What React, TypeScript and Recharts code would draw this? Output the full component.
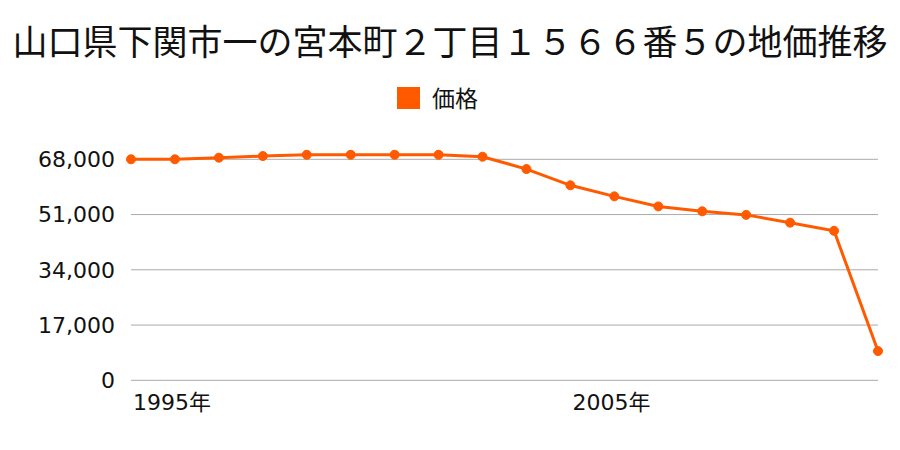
import React from "react";
import { LineChart, Line, XAxis, YAxis, CartesianGrid } from "recharts";

const years = [1995, 1996, 1997, 1998, 1999, 2000, 2001, 2002, 2003, 2004, 2005, 2006, 2007, 2008, 2009, 2010, 2011, 2012];
const prices = [68000, 68000, 68500, 69000, 69400, 69400, 69400, 69400, 68800, 65000, 60000, 56600, 53500, 52000, 50900, 48500, 46000, 9000];
const yTicks = [0, 17000, 34000, 51000, 68000];
const xTicks = [1995, 2005];
const title = "山口県下関市一の宮本町２丁目１５６６番５の地価推移";
const seriesName = "価格";

const data = years.map((y, i) => ({ year: y, price: prices[i] }));

const COLOR = "#ff5a00";
const FONT = "'Noto Sans CJK JP', 'Noto Sans', sans-serif";
const TICK_FONT = "'DejaVu Sans', 'Noto Sans CJK JP', sans-serif";

const XTick = (props: any) => {
  const { x, y, payload } = props;
  return (
    <text x={x + 2} y={y} dy={22} textAnchor="start" fontSize={22} fill="#111" fontFamily={TICK_FONT}>
      {`${payload.value}年`}
    </text>
  );
};

export default function App() {
  return (
    <div style={{ position: "absolute", left: 0, top: 0, width: 900, height: 450, background: "#fff", fontFamily: FONT }}>
      <div
        style={{
          position: "absolute",
          left: 0,
          top: 20,
          width: 900,
          height: 40,
          lineHeight: "40px",
          textAlign: "center",
          fontSize: 35,
          color: "#111",
          whiteSpace: "nowrap",
        }}
      >
        {title}
      </div>
      <div style={{ position: "absolute", left: 397, top: 87, width: 23, height: 22, background: COLOR }} />
      <div
        style={{
          position: "absolute",
          left: 432,
          top: 81,
          height: 32,
          lineHeight: "32px",
          fontSize: 23,
          color: "#111",
        }}
      >
        {seriesName}
      </div>
      <LineChart
        width={900}
        height={450}
        data={data}
        margin={{ top: 145.5, right: 22, bottom: 0, left: 0 }}
      >
        <CartesianGrid
          vertical={false}
          stroke="#aaaaaa"
          strokeWidth={1}
          horizontalValues={yTicks}
          syncWithTicks
        />
        <XAxis
          dataKey="year"
          type="number"
          domain={[1995, 2012]}
          ticks={xTicks}
          axisLine={false}
          tickLine={false}
          tick={<XTick />}
          height={69.7}
        />
        <YAxis
          type="number"
          domain={[0, 72250]}
          ticks={yTicks}
          width={131}
          axisLine={false}
          tickLine={false}
          tickSize={0}
          tickMargin={16}
          tick={{ fontSize: 22, fill: "#111", fontFamily: TICK_FONT }}
          tickFormatter={(v: number) => v.toLocaleString("en-US")}
        />
        <Line
          type="linear"
          dataKey="price"
          name={seriesName}
          stroke={COLOR}
          strokeWidth={3}
          dot={{ r: 4.5, fill: COLOR, stroke: COLOR, strokeWidth: 1 }}
          activeDot={false}
          isAnimationActive={false}
        />
      </LineChart>
    </div>
  );
}
